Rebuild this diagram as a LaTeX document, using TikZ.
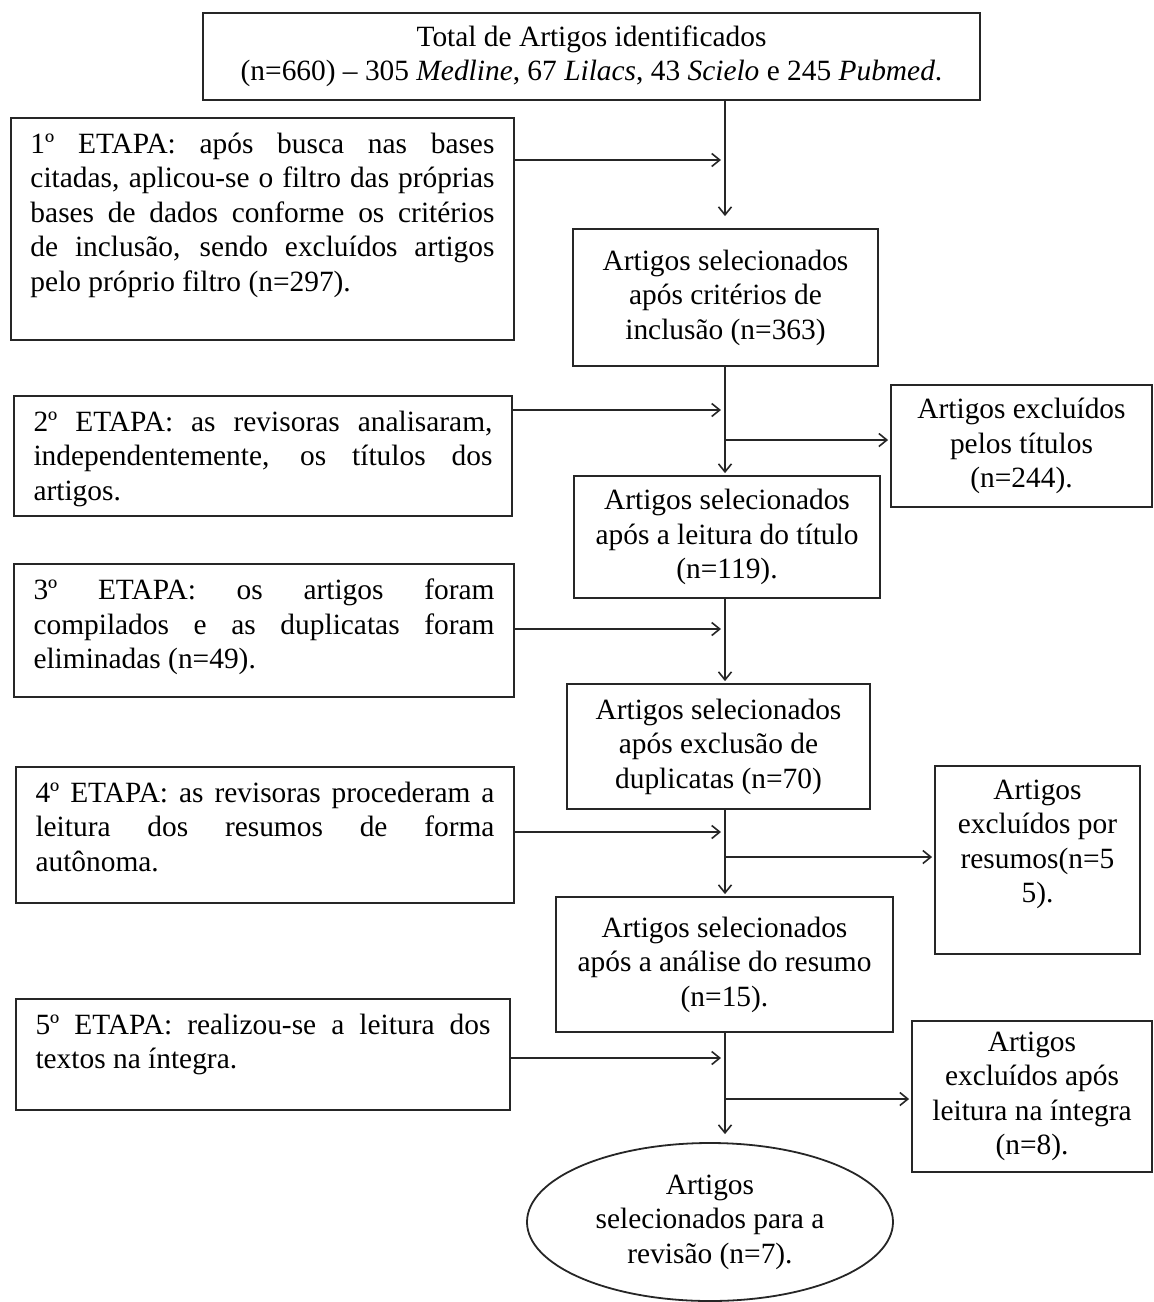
\documentclass[tikz,border=0pt]{standalone}
\usepackage{fontspec}
\setmainfont{Liberation Serif}
\usetikzlibrary{arrows.meta,shapes.geometric}
\hyphenpenalty=10000
\exhyphenpenalty=10000

\begin{document}
\begin{tikzpicture}[x=0.5pt, y=-0.5pt, font=\fontsize{14.7}{17.25}\selectfont]
  \tikzstyle{box}=[draw=black!85, line width=0.9pt, rectangle, inner sep=0pt, align=center]
  \tikzstyle{stage}=[draw=black!85, line width=0.9pt, rectangle, inner xsep=9.75pt, inner ysep=7.5pt]
  \tikzstyle{final}=[draw=black!85, line width=0.9pt, ellipse, inner sep=0pt, align=center,
                     minimum width=183pt, minimum height=79pt]
  \tikzstyle{flow}=[draw=black!85, line width=0.8pt, -{Straight Barb[length=4pt,width=6.5pt]}]

  \useasboundingbox (0,0) rectangle (1153,1302);

  % main column
  \node[box, minimum width=388.5pt, minimum height=43.5pt] (total) at (591.5,56.5)
    {Total de Artigos identificados\\(n=660) – 305 \textit{Medline}, 67 \textit{Lilacs}, 43 \textit{Scielo} e 245 \textit{Pubmed}.};
  \node[box, minimum width=152.5pt, minimum height=68.5pt] (s1) at (725.5,297.5)
    {Artigos selecionados\\após critérios de\\inclusão (n=363)};
  \node[box, minimum width=153pt, minimum height=61pt] (s2) at (727,537)
    {Artigos selecionados\\após a leitura do título\\(n=119).};
  \node[box, minimum width=151.5pt, minimum height=62.5pt] (s3) at (718.5,746.5)
    {Artigos selecionados\\após exclusão de\\duplicatas (n=70)};
  \node[box, minimum width=168.5pt, minimum height=67.5pt] (s4) at (724.5,964.5)
    {Artigos selecionados\\após a análise do resumo\\(n=15).};
  \node[final] (fim) at (710,1222)
    {Artigos\\selecionados para a\\revisão (n=7).};

  % stages on the left
  \node[stage] (e1) at (262.5,229) {\parbox[t][96pt][t]{232pt}{1º ETAPA: após busca nas bases\linebreak
    citadas, aplicou-se o filtro das próprias\linebreak bases de dados conforme os critérios\linebreak
    de inclusão, sendo excluídos artigos\linebreak pelo próprio filtro (n=297).}};
  \node[stage] (e2) at (263,456) {\parbox[t][45pt][t]{229.5pt}{2º ETAPA: as revisoras analisaram,\linebreak
    independentemente, os títulos dos\linebreak artigos.}};
  \node[stage] (e3) at (264,630.5) {\parbox[t][51.5pt][t]{230.5pt}{3º ETAPA: os artigos foram\linebreak
    compilados e as duplicatas foram\linebreak eliminadas (n=49).}};
  \node[stage] (e4) at (265,835) {\parbox[t][53pt][t]{229.5pt}{4º ETAPA: as revisoras procederam a\linebreak
    leitura dos resumos de forma\linebreak autônoma.}};
  \node[stage] (e5) at (263,1054.5) {\parbox[t][40.5pt][t]{227.5pt}{5º ETAPA: realizou-se a leitura dos\linebreak
    textos na íntegra.}};

  % excluded on the right
  \node[box, minimum width=130.5pt, minimum height=61pt] (x1) at (1021.5,446)
    {Artigos excluídos\\pelos títulos\\(n=244).};
  \node[box, minimum width=102.5pt, minimum height=94pt] (x2) at (1037.5,860)
    {\parbox[t][80pt][t]{100pt}{\centering Artigos\\excluídos por\\resumos(n=5\\5).}};
  \node[box, minimum width=120pt, minimum height=75.5pt] (x3) at (1032,1096.5)
    {Artigos\\excluídos após\\leitura na íntegra\\(n=8).};

  % points on the trunk
  \coordinate (j1) at (725,160);
  \coordinate (j2) at (725,410);
  \coordinate (j3) at (725,629);
  \coordinate (j4) at (725,832);
  \coordinate (j5) at (725,1058);
  \coordinate (b1) at (725,440);
  \coordinate (b2) at (725,857);
  \coordinate (b3) at (725,1099);

  % trunk
  \draw[flow, shorten >=6pt] (total.south -| j1) -- (s1.north -| j1);
  \foreach \source/\dest/\via in {s1/s2/j2, s2/s3/j3, s3/s4/j4}
    \draw[flow, shorten >=1pt] (\source.south -| \via) -- (\dest.north -| \via);
  \draw[flow, shorten >=4pt] (s4.south -| j5) -- (fim.north -| j5);

  % stages into the trunk
  \foreach \source/\dest in {e1/j1, e2/j2, e3/j3, e4/j4, e5/j5}
    \draw[flow, shorten >=2pt] (\source.east |- \dest) -- (\dest);

  % trunk to the excluded
  \foreach \source/\dest in {b1/x1, b2/x2, b3/x3}
    \draw[flow, shorten >=1pt] (\source) -- (\source -| \dest.west);

\end{tikzpicture}
\end{document}
